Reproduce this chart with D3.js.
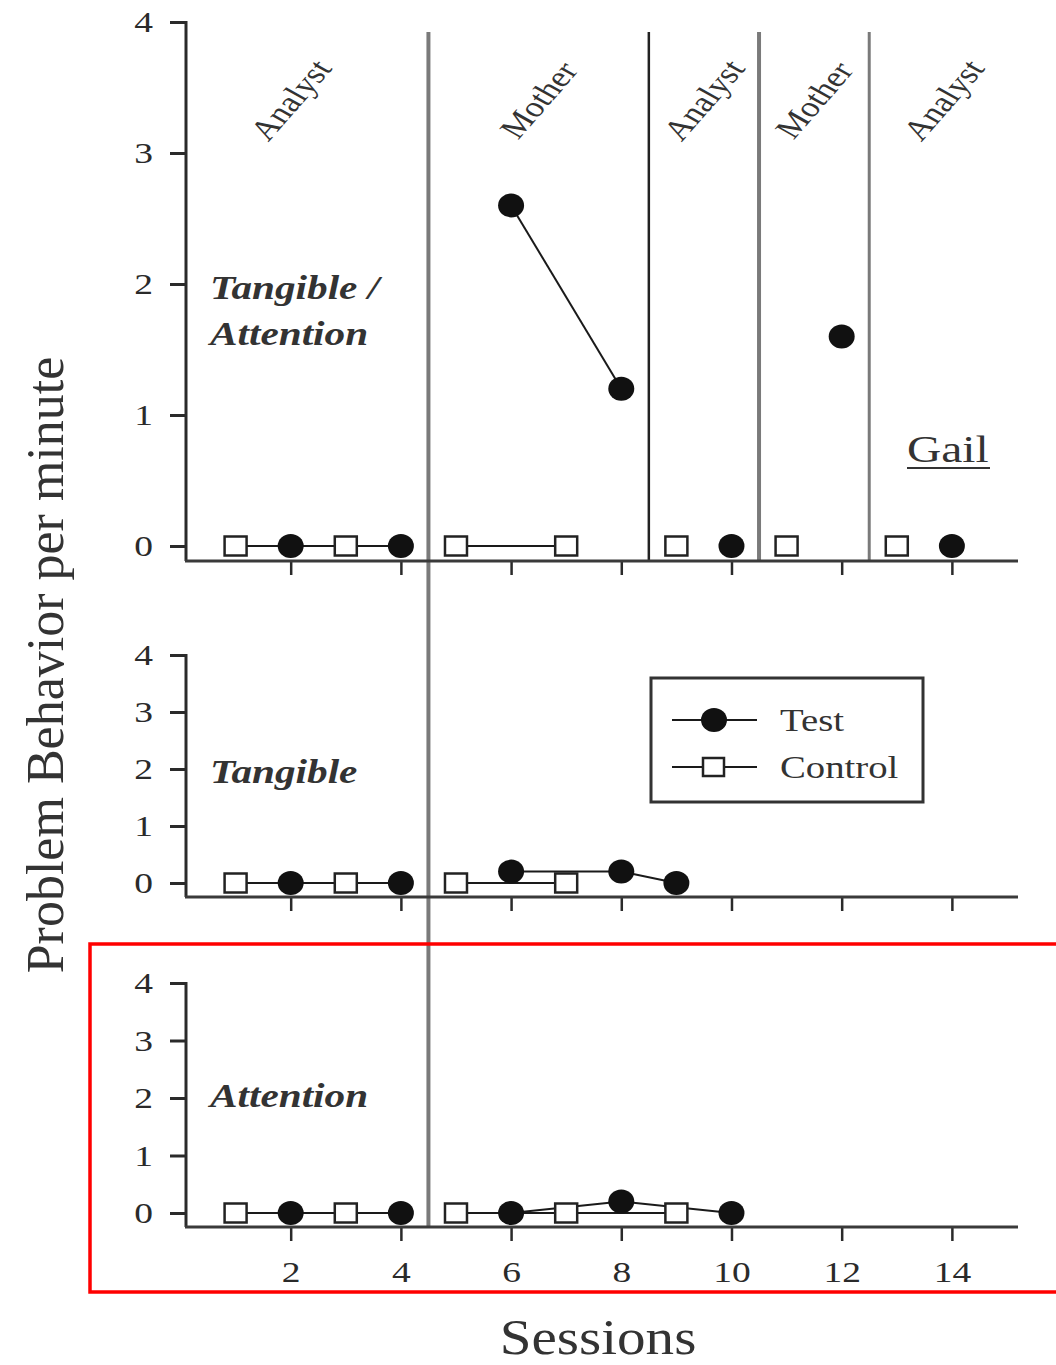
<!DOCTYPE html>
<html>
<head>
<meta charset="utf-8">
<script src="https://cdn.jsdelivr.net/npm/d3@7"></script>
<style>
  body { margin: 0; background: #fff; }
  svg { display: block; }
</style>
</head>
<body>
<script>
// sessions and rates
var topTestSessions = [2, 4, 6, 8, 10, 12, 14];
var topTestValues = [0, 0, 2.6, 1.2, 0, 1.6, 0];
var topControlSessions = [1, 3, 5, 7, 9, 11, 13];
var topControlValues = [0, 0, 0, 0, 0, 0, 0];

var midTestSessions = [2, 4, 6, 8, 9];
var midTestValues = [0, 0, 0.2, 0.2, 0];
var midControlSessions = [1, 3, 5, 7];
var midControlValues = [0, 0, 0, 0];

var botTestSessions = [2, 4, 6, 8, 10];
var botTestValues = [0, 0, 0, 0.2, 0];
var botControlSessions = [1, 3, 5, 7, 9];
var botControlValues = [0, 0, 0, 0, 0];

var phaseChanges = [4.5, 8.5, 10.5, 12.5];
var phaseLabels = ["Analyst", "Mother", "Analyst", "Mother", "Analyst"];
var yTicks = [0, 1, 2, 3, 4];
var xTicks = [2, 4, 6, 8, 10, 12, 14];

var W = 1056, H = 1365;
var SX = 1.25; // the figure is stretched sideways, text too
var ink = "#2a2a2a";
var serif = "'Liberation Serif', 'DejaVu Serif', serif";

var svg = d3.select("body").append("svg").attr("width", W).attr("height", H);

var xScale = d3.scaleLinear().domain([0.1, 15.2]).range([186, 1018]);

function zip(xs, ys) {
  return xs.map(function(s, i) { return { s: s, v: ys[i] }; });
}

// split a series wherever a phase line falls between two points
function splitByPhase(pts, breaks) {
  var out = [], cur = [];
  pts.forEach(function(p, i) {
    if (i > 0) {
      var prev = pts[i - 1];
      var crosses = breaks.some(function(b) { return prev.s < b && p.s > b; });
      if (crosses) { out.push(cur); cur = []; }
    }
    cur.push(p);
  });
  if (cur.length) out.push(cur);
  return out;
}

function drawPanel(opt) {
  var yScale = d3.scaleLinear().domain([0, 4]).range([opt.zeroY, opt.topY]);
  var g = svg.append("g");

  // y axis
  var yAxis = d3.axisLeft(yScale).tickValues(yTicks).tickSize(16).tickPadding(10).tickFormat(d3.format("d"));
  var ya = g.append("g").attr("transform", "translate(186,0)").call(yAxis);
  ya.select(".domain").remove();
  ya.selectAll(".tick line").attr("stroke", ink).attr("stroke-width", 3);
  ya.selectAll(".tick text")
    .attr("x", -33 / SX)
    .attr("transform", "scale(" + SX + ",1)")
    .style("font-family", serif).style("font-size", "30px").attr("fill", ink);
  g.append("line")
    .attr("x1", 186).attr("x2", 186)
    .attr("y1", opt.topY - 1).attr("y2", opt.axisY)
    .attr("stroke", ink).attr("stroke-width", 3);

  // x axis
  var xAxis = d3.axisBottom(xScale).tickValues(xTicks).tickSize(14).tickPadding(20)
    .tickFormat(opt.labels ? d3.format("d") : "");
  var xa = g.append("g").attr("transform", "translate(0," + opt.axisY + ")").call(xAxis);
  xa.select(".domain").remove();
  xa.selectAll(".tick line").attr("stroke", ink).attr("stroke-width", 2.5);
  xa.selectAll(".tick text")
    .attr("transform", "scale(" + SX + ",1)")
    .attr("x", 0)
    .style("font-family", serif).style("font-size", "30px").attr("fill", ink);
  g.append("line")
    .attr("x1", 185).attr("x2", 1018)
    .attr("y1", opt.axisY).attr("y2", opt.axisY)
    .attr("stroke", "#3a3a3a").attr("stroke-width", 3);

  // condition label
  var lab = g.append("text")
    .attr("transform", "translate(210," + opt.labelY + ") scale(" + SX + ",1)")
    .style("font-family", serif).style("font-size", "33px")
    .style("font-style", "italic").style("font-weight", "bold")
    .attr("fill", "#333");
  opt.label.forEach(function(line, i) {
    lab.append("tspan").attr("x", 0).attr("dy", i === 0 ? 0 : 46).text(line);
  });

  var line = d3.line()
    .x(function(d) { return xScale(d.s); })
    .y(function(d) { return yScale(d.v); });

  var series = [opt.control, opt.test];
  series.forEach(function(pts) {
    splitByPhase(pts, opt.breaks).forEach(function(seg) {
      if (seg.length < 2) return;
      g.append("path").datum(seg)
        .attr("d", line)
        .attr("fill", "none")
        .attr("stroke", "#1a1a1a")
        .attr("stroke-width", 2);
    });
  });

  g.selectAll("rect.ctrl").data(opt.control).enter().append("rect")
    .attr("class", "ctrl")
    .attr("x", function(d) { return xScale(d.s) - 11; })
    .attr("y", function(d) { return yScale(d.v) - 9.5; })
    .attr("width", 22).attr("height", 19)
    .attr("fill", "#fff").attr("stroke", "#222").attr("stroke-width", 2.5);

  g.selectAll("ellipse.test").data(opt.test).enter().append("ellipse")
    .attr("class", "test")
    .attr("cx", function(d) { return xScale(d.s); })
    .attr("cy", function(d) { return yScale(d.v); })
    .attr("rx", 13).attr("ry", 12)
    .attr("fill", "#111");
}

// phase change lines (drawn first so the axes sit on top)
phaseChanges.forEach(function(p, i) {
  var first = i === 0;
  svg.append("line")
    .attr("x1", xScale(p)).attr("x2", xScale(p))
    .attr("y1", 32).attr("y2", first ? 1228 : 561)
    .attr("stroke", i === 1 ? "#222" : "#7a7a7a")
    .attr("stroke-width", i === 1 ? 2.5 : (i === 3 ? 3 : 4));
});

// phase labels, tilted
var bounds = [-0.5].concat(phaseChanges).concat([15.2]);
phaseLabels.forEach(function(name, i) {
  var cx = xScale((bounds[i] + bounds[i + 1]) / 2);
  svg.append("text")
    .attr("transform", "translate(" + cx + ",100) scale(" + SX + ",1) rotate(-55)")
    .attr("text-anchor", "middle")
    .attr("dominant-baseline", "central")
    .style("font-family", serif).style("font-size", "29px")
    .attr("fill", "#333")
    .text(name);
});

drawPanel({
  topY: 22, zeroY: 546, axisY: 561, labels: false,
  label: ["Tangible /", "Attention"], labelY: 299,
  breaks: phaseChanges,
  test: zip(topTestSessions, topTestValues),
  control: zip(topControlSessions, topControlValues)
});

drawPanel({
  topY: 655, zeroY: 883, axisY: 897, labels: false,
  label: ["Tangible"], labelY: 783,
  breaks: [phaseChanges[0]],
  test: zip(midTestSessions, midTestValues),
  control: zip(midControlSessions, midControlValues)
});

drawPanel({
  topY: 983, zeroY: 1213, axisY: 1227, labels: true,
  label: ["Attention"], labelY: 1107,
  breaks: [phaseChanges[0]],
  test: zip(botTestSessions, botTestValues),
  control: zip(botControlSessions, botControlValues)
});

// participant name
svg.append("text")
  .attr("transform", "translate(907,462) scale(" + SX + ",1)")
  .style("font-family", serif).style("font-size", "38px")
  .attr("fill", "#333")
  .text("Gail");
svg.append("line")
  .attr("x1", 907).attr("x2", 990).attr("y1", 468).attr("y2", 468)
  .attr("stroke", "#333").attr("stroke-width", 2);

// legend
var lg = svg.append("g");
lg.append("rect")
  .attr("x", 651).attr("y", 678).attr("width", 272).attr("height", 124)
  .attr("fill", "#fff").attr("stroke", "#333").attr("stroke-width", 3);
[["Test", 720], ["Control", 767]].forEach(function(item, i) {
  lg.append("line")
    .attr("x1", 672).attr("x2", 757).attr("y1", item[1]).attr("y2", item[1])
    .attr("stroke", "#1a1a1a").attr("stroke-width", 2);
  if (i === 0) {
    lg.append("ellipse").attr("cx", 714).attr("cy", item[1]).attr("rx", 13).attr("ry", 12).attr("fill", "#111");
  } else {
    lg.append("rect").attr("x", 703).attr("y", item[1] - 9).attr("width", 21).attr("height", 18)
      .attr("fill", "#fff").attr("stroke", "#222").attr("stroke-width", 2.5);
  }
  lg.append("text")
    .attr("transform", "translate(780," + (item[1] + 11) + ") scale(" + SX + ",1)")
    .style("font-family", serif).style("font-size", "31px")
    .attr("fill", "#333")
    .text(item[0]);
});

// axis titles
svg.append("text")
  .attr("transform", "translate(45,665) rotate(-90)")
  .attr("text-anchor", "middle")
  .attr("dominant-baseline", "central")
  .style("font-family", serif).style("font-size", "52px")
  .attr("fill", "#333")
  .text("Problem Behavior per minute");

svg.append("text")
  .attr("transform", "translate(598,1354) scale(1.12,1)")
  .attr("text-anchor", "middle")
  .style("font-family", serif).style("font-size", "51px")
  .attr("fill", "#333")
  .text("Sessions");

// red highlight box around the bottom panel
svg.append("rect")
  .attr("x", 90).attr("y", 944).attr("width", 980).attr("height", 348)
  .attr("fill", "none").attr("stroke", "#ff0000").attr("stroke-width", 3.5);
</script>
</body>
</html>
